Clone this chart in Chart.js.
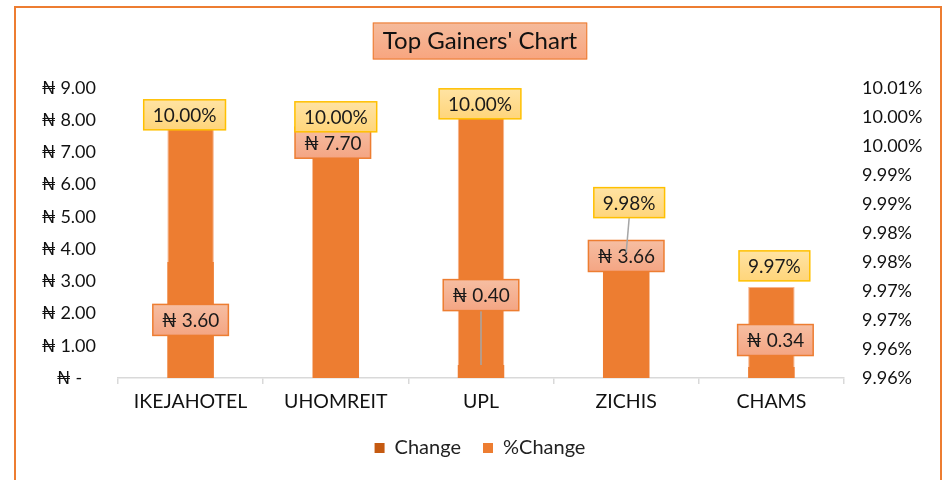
<!DOCTYPE html>
<html>
<head>
<meta charset="utf-8">
<script src="https://cdn.jsdelivr.net/npm/chart.js@4/dist/chart.umd.min.js"></script>
<style>
  html, body { margin: 0; padding: 0; background: #ffffff; }
  #wrap { position: relative; width: 945px; height: 480px; overflow: hidden; }
  #c { position: absolute; left: 0; top: 0; }
  #frame { position: absolute; left: 14px; top: 6px; width: 924px; height: 490px;
           border: 2px solid #ed7d31; pointer-events: none; }
</style>
</head>
<body>
<div id="wrap">
  <canvas id="c" width="945" height="480"></canvas>
  <div id="frame"></div>
</div>
<script>
// ---- data ----
const categories = ['IKEJAHOTEL', 'UHOMREIT', 'UPL', 'ZICHIS', 'CHAMS'];
const changeValues = [3.60, 7.70, 0.40, 3.66, 0.34];          // ₦ change (left axis)
const pctChangeValues = [10.00, 10.00, 10.00, 9.9766, 9.9707]; // % change (right axis)
const leftTickLabels = ['₦ -   ', '₦ 1.00', '₦ 2.00', '₦ 3.00', '₦ 4.00', '₦ 5.00',
                        '₦ 6.00', '₦ 7.00', '₦ 8.00', '₦ 9.00'];
const rightTickLabels = ['9.96%', '9.96%', '9.97%', '9.97%', '9.98%', '9.98%',
                         '9.99%', '9.99%', '10.00%', '10.00%', '10.01%'];
const seriesNames = ['Change', '%Change'];

// ---- styling ----
const FONT = "Lato, 'DejaVu Sans', sans-serif";
const BAR = '#ed7d31';
const CHANGE_LEGEND = '#c55a11';

// label placement relative to each bar top (styling, not data)
const changeLabelOffsets = [[0, 58], [-3, 13], [0, -70], [0, -4], [4, -27]];
const pctLabelOffsets = [[-6, -2], [0, 0], [-1, -13], [3, -50], [3, -21]];
const changeLeaders = [false, false, true, false, false];
const pctLeaders = [false, false, false, true, false];

const framePlugin = {
  id: 'titleBox',
  beforeDraw(chart) {
    const ctx = chart.ctx;
    const tb = chart.titleBlock;
    if (!tb) return;
    ctx.save();
    ctx.font = '24px ' + FONT;
    const tw = ctx.measureText(chart.options.plugins.title.text).width;
    const w = tw + 20, h = 37;
    const cx = tb.left + tb.width / 2;
    const cy = tb.top + tb.options.padding.top + 14;
    const x = cx - w / 2, y = cy - h / 2;
    const g = ctx.createLinearGradient(0, y, 0, y + h);
    g.addColorStop(0, '#f5bb9c');
    g.addColorStop(1, '#f8a57f');
    ctx.fillStyle = g;
    ctx.fillRect(x, y, w, h);
    ctx.strokeStyle = BAR;
    ctx.lineWidth = 1;
    ctx.strokeRect(x + 0.5, y + 0.5, w - 1, h - 1);
    ctx.restore();
  }
};

const labelPlugin = {
  id: 'boxLabels',
  afterDatasetsDraw(chart) {
    const ctx = chart.ctx;
    const sets = [
      { ds: 0, offsets: changeLabelOffsets, leaders: changeLeaders,
        fmt: v => '₦ ' + v.toFixed(2), fill: ['#f6bea2', '#f4a583'], stroke: '#ed7d31', h: 31 },
      { ds: 1, offsets: pctLabelOffsets, leaders: pctLeaders,
        fmt: v => v.toFixed(2) + '%', fill: ['#ffe3a3', '#ffd57a'], stroke: '#ffc000', h: 30 }
    ];
    ctx.save();
    sets.forEach(s => {
      const meta = chart.getDatasetMeta(s.ds);
      const data = chart.data.datasets[s.ds].data;
      meta.data.forEach((bar, i) => {
        const text = s.fmt(data[i]);
        ctx.font = '19px ' + FONT;
        const w = ctx.measureText(text).width + 18;
        const cx = bar.x + s.offsets[i][0];
        const cy = bar.y + s.offsets[i][1];
        const x = cx - w / 2, y = cy - s.h / 2;
        if (s.leaders[i]) {
          ctx.strokeStyle = '#a6a6a6';
          ctx.lineWidth = 1.5;
          ctx.beginPath();
          ctx.moveTo(cx, y + s.h);
          ctx.lineTo(bar.x, bar.y);
          ctx.stroke();
        }
        const g = ctx.createLinearGradient(0, y, 0, y + s.h);
        g.addColorStop(0, s.fill[0]);
        g.addColorStop(1, s.fill[1]);
        ctx.fillStyle = g;
        ctx.fillRect(x, y, w, s.h);
        ctx.strokeStyle = s.stroke;
        ctx.lineWidth = 1.5;
        ctx.strokeRect(x, y, w, s.h);
        ctx.fillStyle = '#1a1a1a';
        ctx.textAlign = 'center';
        ctx.textBaseline = 'middle';
        ctx.fillText(text, cx, cy + 1);
      });
    });
    ctx.restore();
  }
};

new Chart(document.getElementById('c'), {
  type: 'bar',
  data: {
    labels: categories,
    datasets: [
      { label: seriesNames[0], data: changeValues, yAxisID: 'y',
        backgroundColor: BAR, borderColor: BAR, borderWidth: 0,
        grouped: false, barPercentage: 0.32, categoryPercentage: 1 },
      { label: seriesNames[1], data: pctChangeValues, yAxisID: 'y1',
        backgroundColor: BAR, borderColor: '#f6b48e', borderWidth: 1,
        grouped: false, barPercentage: 0.32, categoryPercentage: 1 }
    ]
  },
  options: {
    responsive: false,
    animation: false,
    layout: { padding: { left: 20, right: 5, top: 12, bottom: 12 } },
    plugins: {
      title: {
        display: true, text: "Top Gainers' Chart", color: '#111',
        font: { family: FONT, size: 24, weight: 'normal' },
        padding: { top: 15, bottom: 32 }
      },
      legend: {
        position: 'bottom',
        labels: {
          color: '#222', font: { family: FONT, size: 20 },
          boxWidth: 10, boxHeight: 10, padding: 22,
          generateLabels(chart) {
            return chart.data.datasets.map((d, i) => ({
              text: d.label, fillStyle: i === 0 ? CHANGE_LEGEND : BAR,
              strokeStyle: i === 0 ? CHANGE_LEGEND : BAR, lineWidth: 0,
              datasetIndex: i, fontColor: '#222'
            }));
          }
        }
      },
      tooltip: { enabled: false }
    },
    scales: {
      x: {
        grid: { display: true, drawOnChartArea: false, drawTicks: true, tickLength: 6,
                color: '#d9d9d9', lineWidth: 1.5 },
        border: { display: true, color: '#d9d9d9', width: 1.5 },
        ticks: { color: '#111', font: { family: FONT, size: 19.5 }, padding: 6, maxRotation: 0 },
        afterFit(s) { s.height = 38; }
      },
      y: {
        position: 'left', min: 0, max: 9,
        grid: { display: false, drawTicks: false }, border: { display: false },
        ticks: { stepSize: 1, color: '#111', font: { family: FONT, size: 18 }, padding: 22,
                 callback: (v, i) => leftTickLabels[i] },
        afterFit(s) { s.width = 98; }
      },
      y1: {
        position: 'right', min: 9.955, max: 10.005,
        grid: { display: false, drawTicks: false }, border: { display: false },
        ticks: { stepSize: 0.005, color: '#111', font: { family: FONT, size: 18 }, padding: 18,
                 callback: (v, i) => rightTickLabels[i] },
        afterFit(s) { s.width = 96; }
      }
    }
  },
  plugins: [framePlugin, labelPlugin]
});
</script>
</body>
</html>
